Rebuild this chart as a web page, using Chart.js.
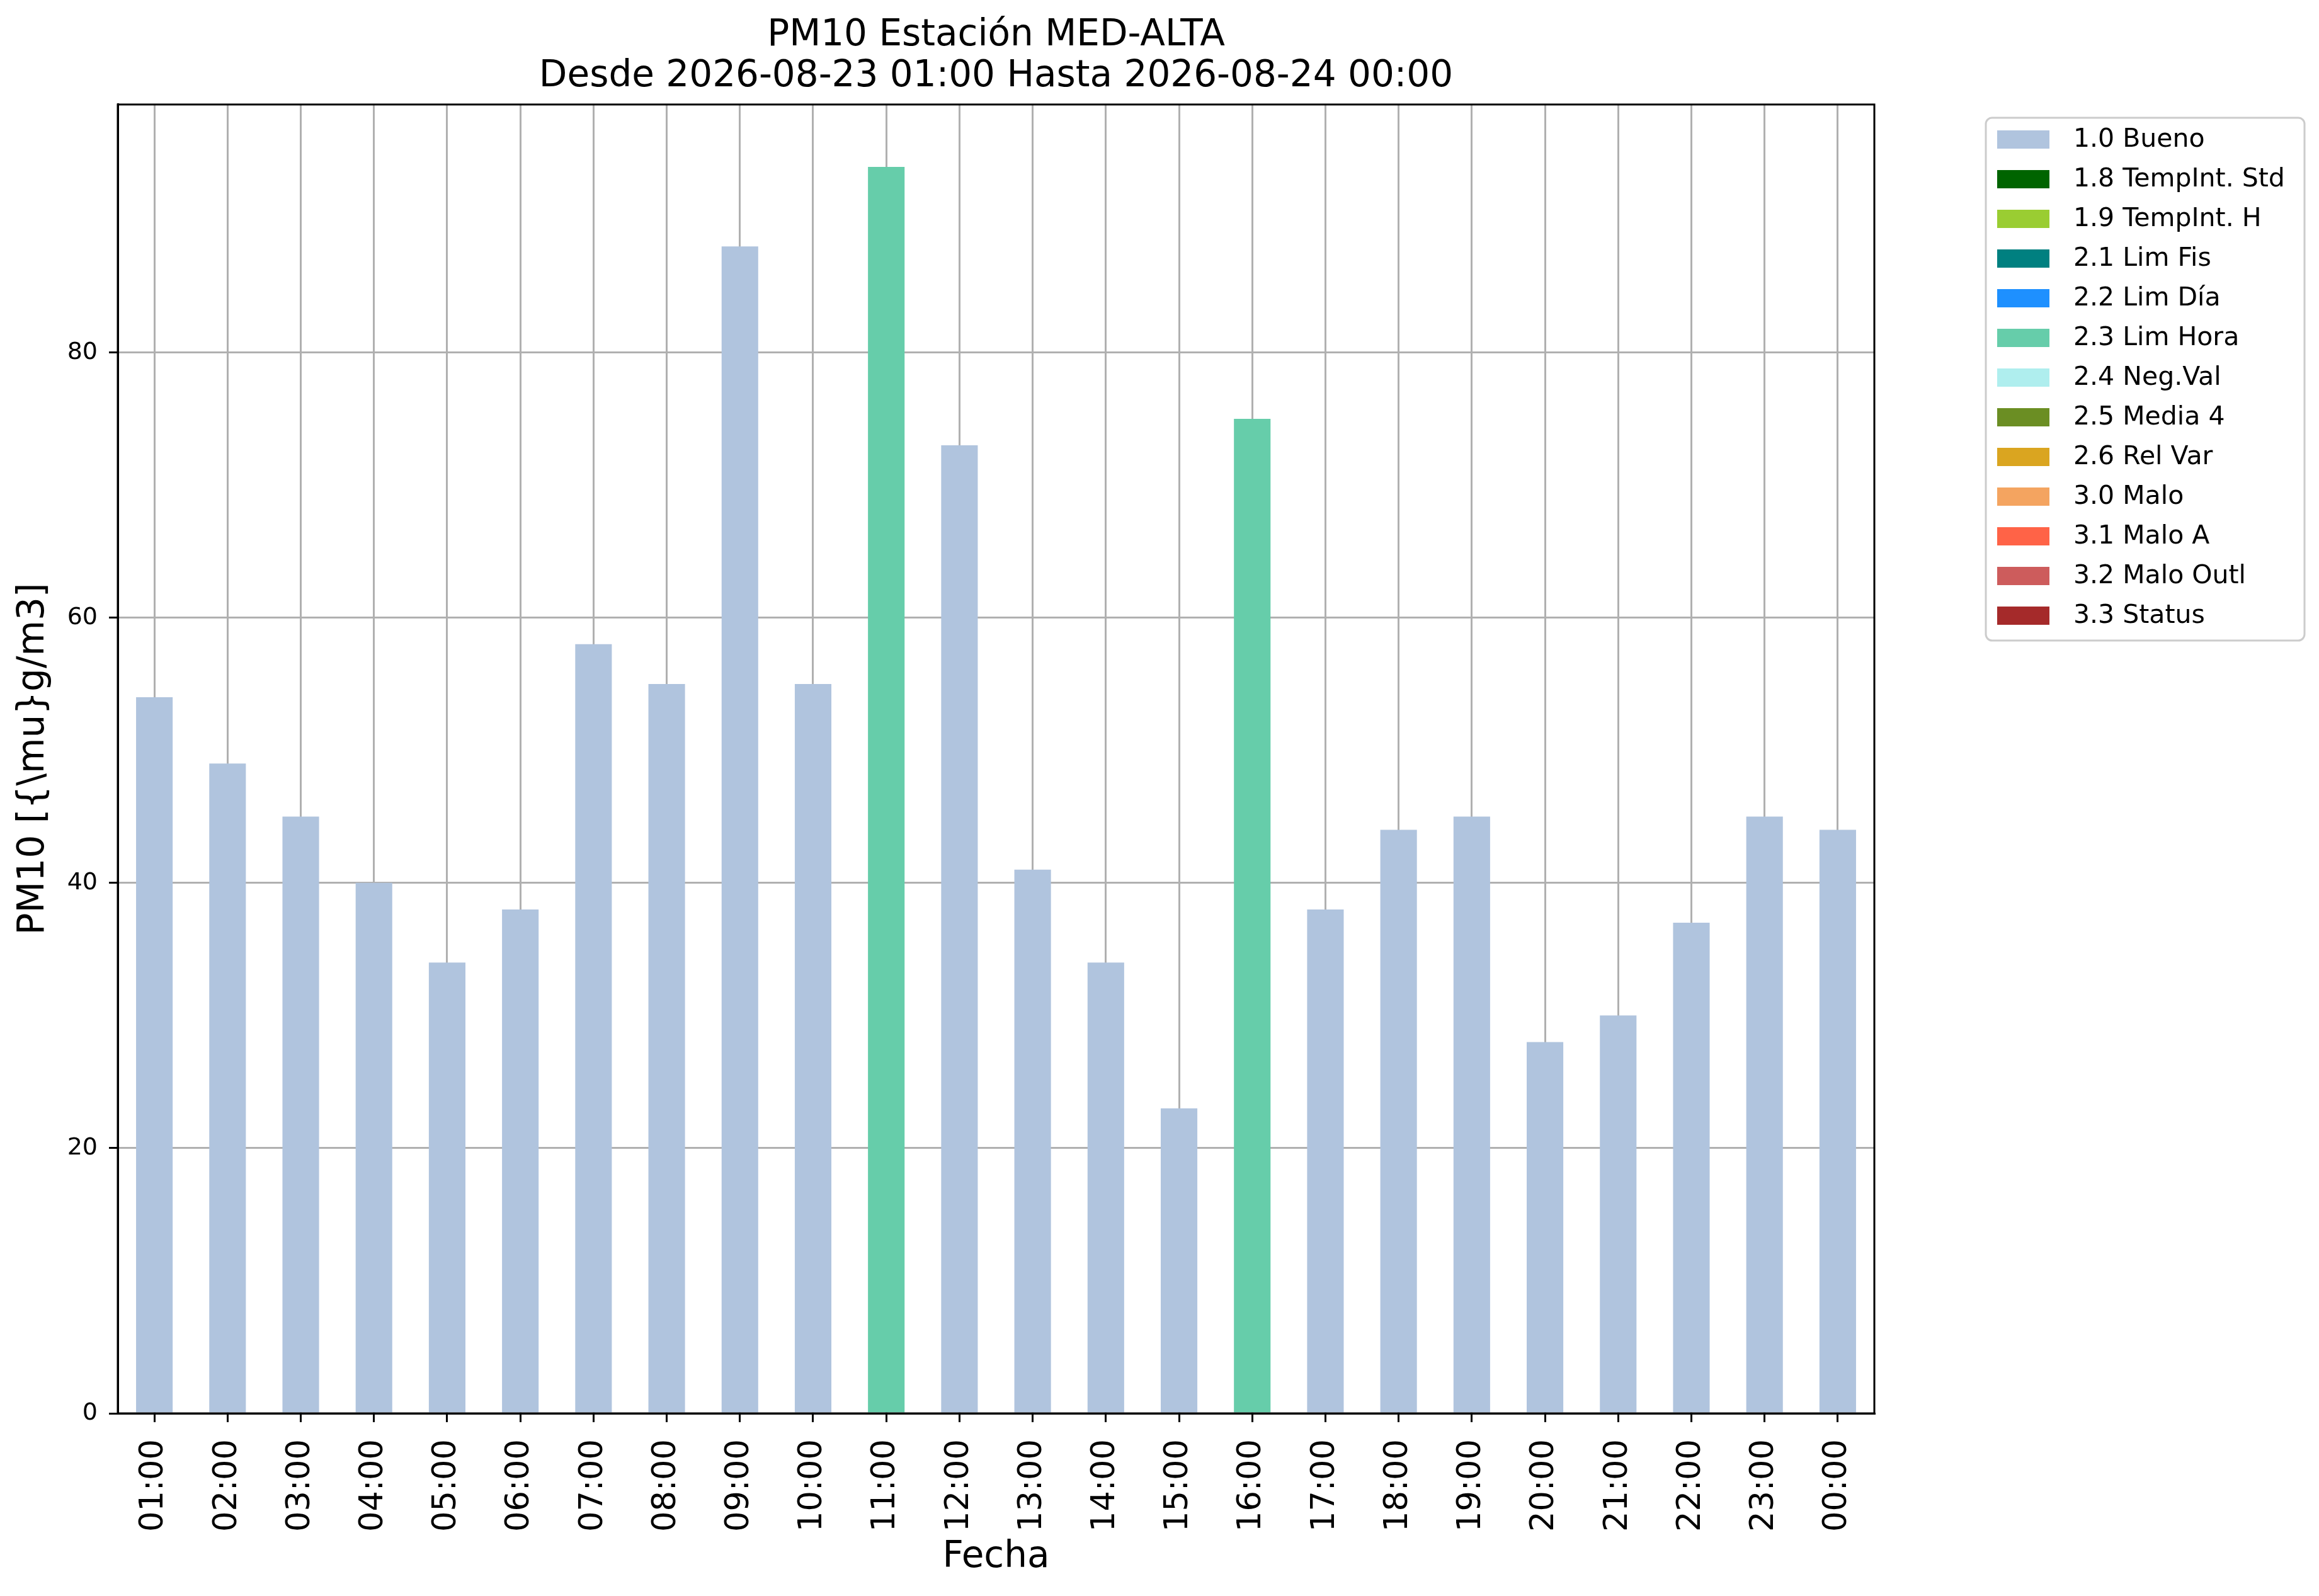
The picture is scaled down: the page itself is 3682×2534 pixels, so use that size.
<!DOCTYPE html>
<html>
<head>
<meta charset="utf-8">
<title>PM10 Estación MED-ALTA</title>
<script src="https://cdn.jsdelivr.net/npm/chart.js@4.4.1/dist/chart.umd.min.js"></script>
<style>
    html, body { margin: 0; padding: 0; background: #ffffff; }
    #grafico { display: block; }
</style>
</head>
<body>
<canvas id="grafico" width="3682" height="2534" style="width:3682px;height:2534px;"></canvas>
<script>
// Datos
const horas = ['01:00', '02:00', '03:00', '04:00', '05:00', '06:00', '07:00', '08:00',
    '09:00', '10:00', '11:00', '12:00', '13:00', '14:00', '15:00', '16:00',
    '17:00', '18:00', '19:00', '20:00', '21:00', '22:00', '23:00', '00:00'];

// 1.0 Bueno
const bueno = [54, 49, 45, 40, 34, 38, 58, 55, 88, 55, null, 73,
    41, 34, 23, null, 38, 44, 45, 28, 30, 37, 45, 44];

// 2.3 Lim Hora
const limHora = [null, null, null, null, null, null, null, null, null, null, 94, null,
    null, null, null, 75, null, null, null, null, null, null, null, null];

// Etiquetas de validacion y sus colores
const etiquetas = ['1.0 Bueno', '1.8 TempInt. Std', '1.9 TempInt. H', '2.1 Lim Fis',
    '2.2 Lim Día', '2.3 Lim Hora', '2.4 Neg.Val', '2.5 Media 4', '2.6 Rel Var',
    '3.0 Malo', '3.1 Malo A', '3.2 Malo Outl', '3.3 Status'];
const colores = ['#B0C4DE', '#006400', '#9ACD32', '#008080', '#1E90FF', '#66CDAA',
    '#AFEEEE', '#6B8E23', '#DAA520', '#F4A460', '#FF6347', '#CD5C5C', '#A52A2A'];

const ticksY = [0, 20, 40, 60, 80];

const fuente = 'DejaVu Sans';
Chart.defaults.font.family = fuente;
Chart.defaults.color = '#000000';

// Solo Bueno y Lim Hora tienen datos
const series = { '1.0 Bueno': bueno, '2.3 Lim Hora': limHora };

const datasets = etiquetas.map((etiqueta, i) => ({
    label: etiqueta,
    data: series[etiqueta] || [],
    backgroundColor: colores[i],
    borderWidth: 0,
    barPercentage: 0.5,
    categoryPercentage: 1.0
}));

// Marco completo del area del grafico (como matplotlib)
const marcoPlugin = {
    id: 'marco',
    afterDraw(chart) {
        const a = chart.chartArea;
        const ctx = chart.ctx;
        ctx.save();
        ctx.strokeStyle = '#000000';
        ctx.lineWidth = 3;
        ctx.strokeRect(a.left, a.top, a.right - a.left, a.bottom - a.top);
        ctx.restore();
    }
};

// Leyenda al estilo matplotlib, fuera del area, a la derecha
const leyendaPlugin = {
    id: 'leyenda',
    afterDraw(chart) {
        const ctx = chart.ctx;
        const x0 = 3153, y0 = 187, w = 506, h = 830, r = 10;
        ctx.save();
        ctx.beginPath();
        ctx.moveTo(x0 + r, y0);
        ctx.arcTo(x0 + w, y0, x0 + w, y0 + h, r);
        ctx.arcTo(x0 + w, y0 + h, x0, y0 + h, r);
        ctx.arcTo(x0, y0 + h, x0, y0, r);
        ctx.arcTo(x0, y0, x0 + w, y0, r);
        ctx.closePath();
        ctx.fillStyle = 'rgba(255,255,255,0.8)';
        ctx.fill();
        ctx.strokeStyle = '#cccccc';
        ctx.lineWidth = 3;
        ctx.stroke();

        ctx.font = '41px "' + fuente + '"';
        ctx.textBaseline = 'middle';
        ctx.textAlign = 'left';
        chart.data.datasets.forEach((ds, i) => {
            const yTop = 207 + i * 63;
            ctx.fillStyle = ds.backgroundColor;
            ctx.fillRect(3171, yTop, 83, 29);
            ctx.fillStyle = '#000000';
            ctx.fillText(ds.label, 3292, yTop + 15);
        });
        ctx.restore();
    }
};

new Chart(document.getElementById('grafico'), {
    type: 'bar',
    data: {
        labels: horas,
        datasets: datasets
    },
    options: {
        responsive: false,
        devicePixelRatio: 1,
        animation: false,
        layout: {
            padding: { left: 0, right: 706, top: 0, bottom: 0 }
        },
        plugins: {
            legend: { display: false },
            tooltip: { enabled: false },
            title: {
                display: true,
                fullSize: false,
                text: ['PM10 Estación MED-ALTA', 'Desde 2026-08-23 01:00 Hasta 2026-08-24 00:00'],
                color: '#000000',
                font: { family: fuente, size: 58, weight: 'normal', lineHeight: 1.12 },
                padding: { top: 24, bottom: 12 }
            }
        },
        scales: {
            x: {
                type: 'category',
                stacked: true,
                offset: true,
                z: 1,
                grid: {
                    offset: false,
                    color: '#b0b0b0',
                    lineWidth: 3,
                    tickLength: 14,
                    tickColor: '#000000',
                    tickWidth: 3
                },
                border: { color: '#000000', width: 3 },
                ticks: {
                    autoSkip: false,
                    maxRotation: 90,
                    minRotation: 90,
                    padding: 27,
                    color: '#000000',
                    font: { family: fuente, size: 51 }
                },
                title: {
                    display: true,
                    text: 'Fecha',
                    color: '#000000',
                    font: { family: fuente, size: 58, lineHeight: 1.2 },
                    padding: { top: 0, bottom: 26 }
                },
                afterFit(scale) {
                    scale.height = 290;
                }
            },
            y: {
                stacked: true,
                min: 0,
                max: 98.7,
                z: 1,
                grid: {
                    color: '#b0b0b0',
                    lineWidth: 3,
                    tickLength: 14,
                    tickColor: '#000000',
                    tickWidth: 3
                },
                border: { color: '#000000', width: 3 },
                ticks: {
                    stepSize: 20,
                    padding: 18,
                    color: '#000000',
                    font: { family: fuente, size: 38 }
                },
                afterBuildTicks(scale) {
                    scale.ticks = ticksY.map(v => ({ value: v }));
                },
                title: {
                    display: true,
                    text: 'PM10 [{\\mu}g/m3]',
                    color: '#000000',
                    font: { family: fuente, size: 58, lineHeight: 1.2 },
                    padding: { top: 19, bottom: 0 }
                },
                afterFit(scale) {
                    scale.width = 187;
                }
            }
        }
    },
    plugins: [marcoPlugin, leyendaPlugin]
});
</script>
</body>
</html>
